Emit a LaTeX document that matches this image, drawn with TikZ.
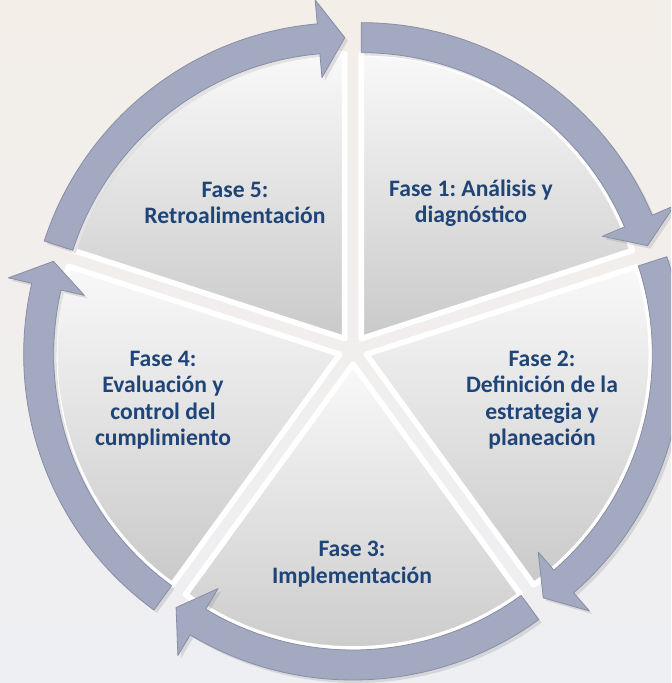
\documentclass[tikz,border=0pt]{standalone}
\usepackage{fontspec}
\setmainfont{Carlito}
\usetikzlibrary{positioning, shadows, calc}

\definecolor{arrowgray}{RGB}{163,169,192}
\definecolor{arrowedge}{RGB}{136,142,166}
\definecolor{phasetext}{RGB}{31,68,120}
\definecolor{bgwarm}{RGB}{243,238,232}
\definecolor{bgcool}{RGB}{238,239,243}

\begin{document}
\frenchspacing
\begin{tikzpicture}[
        x=0.5pt, y=0.5pt,
        wedge/.style={
            top color=gray!5,
            bottom color=gray!42,
            draw=white,
            line width=2.8pt,
            line join=round
        },
        cyclearrow/.style={
            fill=arrowgray,
            draw=arrowedge,
            line width=0.4pt,
            line join=round,
            drop shadow={shadow xshift=1.5pt, shadow yshift=-1.5pt, opacity=0.22}
        },
        phase/.style={
            align=center,
            text=phasetext,
            font=\fontsize{11.8}{13.25}\selectfont\bfseries
        }
    ]

    % frame and background
    \useasboundingbox (-353,-333) rectangle (318,350);
    \clip (-353,-333) rectangle (318,350);
    \shade[top color=bgwarm, bottom color=bgcool] (-353,-333) rectangle (318,350);

    \coordinate (C) at (0,0);

    % wedges and arrows, clockwise from the top
    \foreach \a in {90,18,-54,-126,-198} {
        \pgfmathsetmacro{\b}{\a-72}
        \pgfmathsetmacro{\m}{\a-36}
        \pgfmathsetmacro{\h}{\b+5}
        \coordinate (W) at ($(C)+(\m:14)$);
        \path[wedge] (W) -- ($(W)+(\a:285)$) arc[start angle=\a, end angle=\b, radius=285] -- cycle;
        \path[cyclearrow] ($(W)+(\a:286)$) arc[start angle=\a, end angle=\h, radius=286]
            -- ($(W)+(\h:262)$) -- ($(W)+(\b:301)$) -- ($(W)+(\h:340)$)
            -- ($(W)+(\h:316)$) arc[start angle=\h, end angle=\a, radius=316] -- cycle;
    }

    \node[phase] (phase1) at (118,147) {Fase 1: Análisis y\\diagnóstico};
    \node[phase] (phase2) at (189,-50) {Fase 2:\\Definición de la\\estrategia y\\planeación};
    \node[phase] (phase3) at (-1,-214) {Fase 3:\\Implementación};
    \node[phase] (phase4) at (-190,-50) {Fase 4:\\Evaluación y\\control del\\cumplimiento};
    \node[phase] (phase5) at (-118,147) {Fase 5:\\Retroalimentación};

\end{tikzpicture}
\end{document}
